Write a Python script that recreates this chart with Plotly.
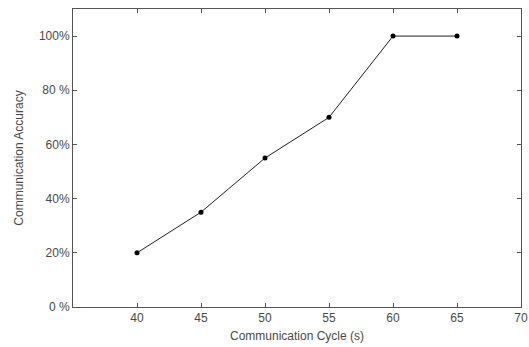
import plotly.graph_objects as go

cycle = [40, 45, 50, 55, 60, 65]
accuracy = [0.20, 0.35, 0.55, 0.70, 1.00, 1.00]
x_ticks = [40, 45, 50, 55, 60, 65, 70]
y_ticks = [0, 0.2, 0.4, 0.6, 0.8, 1.0]
y_labels = ["0 %", "20%", "40%", "60%", "80 %", "100%"]

font_family = "Liberation Sans, Arial"
fig = go.Figure()
fig.add_trace(go.Scatter(
    x=cycle, y=accuracy, mode="lines+markers",
    line=dict(color="#222222", width=1),
    marker=dict(color="#000000", size=5),
    showlegend=False,
))

axis_common = dict(
    showgrid=False, zeroline=False, showline=True, mirror="ticks",
    linecolor="#555555", linewidth=1, ticks="inside", ticklen=4,
    tickcolor="#555555", ticklabeloverflow="allow", automargin=False,
    tickfont=dict(family=font_family, size=12, color="#4a4a4a"),
)
fig.update_layout(
    width=529, height=347,
    margin=dict(l=73, r=8, t=9, b=40),
    paper_bgcolor="white", plot_bgcolor="white",
    xaxis=dict(range=[35, 70], tickvals=x_ticks,
               title=dict(text="Communication Cycle (s)", standoff=7,
                          font=dict(family=font_family, size=12, color="#4a4a4a")),
               **axis_common),
    yaxis=dict(range=[0, 1.1], tickvals=y_ticks, ticktext=y_labels,
               title=dict(text="Communication Accuracy", standoff=12,
                          font=dict(family=font_family, size=12, color="#4a4a4a")),
               **axis_common),
)
fig.write_html("out.html", config={"displayModeBar": False},
               post_script="document.body.style.margin='0';document.body.style.overflow='hidden';")
